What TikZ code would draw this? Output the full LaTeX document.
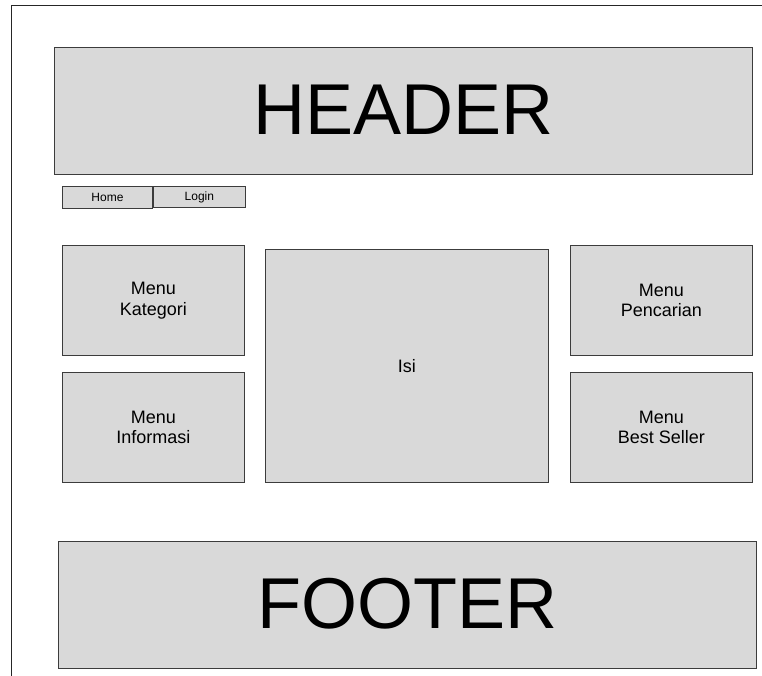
\documentclass[tikz,border=0pt]{standalone}
\usepackage{fontspec}
\setmainfont{Liberation Sans}
\usetikzlibrary{positioning}
\definecolor{boxgray}{RGB}{217,217,217}
\definecolor{edgegray}{RGB}{60,60,60}

\begin{document}
\begin{tikzpicture}[
  x=1pt, y=-1pt,
  block/.style={rectangle, draw=edgegray, fill=boxgray, line width=0.9pt,
                align=center, inner sep=0pt, anchor=north west,
                font=\fontsize{18}{20.5}\selectfont},
  bigblock/.style={block, font=\fontsize{72}{80}\selectfont},
  tab/.style={block, font=\fontsize{12}{14}\selectfont},
  frame/.style={draw=black!85, line width=0.9pt},
  node distance=0pt
]
\useasboundingbox (0,0) rectangle (762,676);
% page frame
\coordinate (fbl) at (11,676);
\coordinate (ftl) at (11,5);
\coordinate (ftr) at (762,5);
\draw[frame] (fbl) -- (ftl) -- (ftr);

\node[bigblock, minimum width=698pt, minimum height=127pt] (header) at (54,47) {\raisebox{3pt}{HEADER}};

\node[tab, minimum width=90pt, minimum height=22pt] (home) at (62,186) {Home};
\node[tab, minimum width=92pt, minimum height=21pt, right=0pt of home.north east,
      anchor=north west] (login) {\raisebox{1.5pt}{Login}};

\node[block, minimum width=182pt, minimum height=110pt] (kategori) at (62,245) {Menu\\Kategori};
\node[block, minimum width=182pt, minimum height=110pt] (informasi) at (62,372) {Menu\\Informasi};
\node[block, minimum width=283pt, minimum height=233pt] (isi) at (265,249) {Isi};
\node[block, minimum width=182pt, minimum height=110pt] (pencarian) at (570,245) {Menu\\Pencarian};
\node[block, minimum width=182pt, minimum height=110pt] (bestseller) at (570,372) {Menu\\Best Seller};

\node[bigblock, minimum width=698pt, minimum height=127pt] (footer) at (58,541) {\raisebox{3pt}{FOOTER}};
\end{tikzpicture}
\end{document}
